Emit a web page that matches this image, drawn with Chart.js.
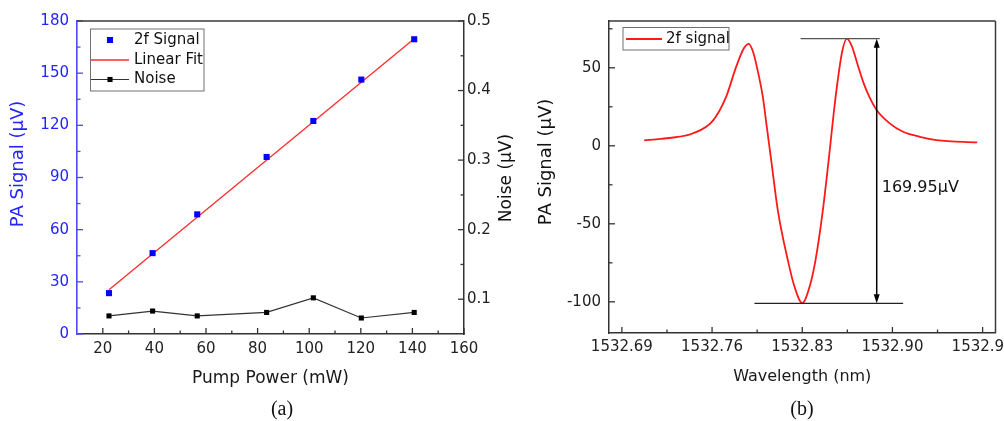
<!DOCTYPE html>
<html>
<head>
<meta charset="utf-8">
<script src="https://cdn.jsdelivr.net/npm/chart.js@4/dist/chart.umd.min.js"></script>
<style>
  html, body { margin: 0; padding: 0; background: #fff; overflow: hidden; width: 1004px; height: 421px; }
  #wrap { position: relative; width: 1004px; height: 421px; overflow: hidden; }
  canvas { position: absolute; top: 0; }
  #chartA { left: 0; }
  #chartB { left: 520px; }
  .panel { position: absolute; font: 20px "Liberation Serif", serif; color: #111; transform: translate(-50%, -50%); }
</style>
</head>
<body>
<div id="wrap">
  <canvas id="chartA" width="520" height="421"></canvas>
  <canvas id="chartB" width="500" height="421"></canvas>
  <div class="panel" style="left:282px; top:408px">(a)</div>
  <div class="panel" style="left:802px; top:408px">(b)</div>
</div>
<script>
// ---- panel (a): PA signal / noise vs pump power
const pumpPower = [22.4, 39.3, 56.6, 83.5, 101.6, 120.2, 140.7];
const paSignal = [23.5, 46.5, 68.8, 101.8, 122.5, 146.3, 169.5];
const noise = [0.076, 0.083, 0.076, 0.081, 0.102, 0.073, 0.081];
const fitPower = [22.4, 140.7];
const fitSignal = [25.5, 169.8];
const pumpTicks = [20, 40, 60, 80, 100, 120, 140, 160];
const signalTicks = [0, 30, 60, 90, 120, 150, 180];
const noiseTicks = [0.1, 0.2, 0.3, 0.4, 0.5];

// ---- panel (b): 2f signal vs wavelength
const wavelength = [1532.7073, 1532.7200, 1532.7268, 1532.7449, 1532.7605, 1532.7709, 1532.7787,
  1532.7847, 1532.7885, 1532.7921, 1532.7952, 1532.7994, 1532.8025, 1532.8059, 1532.8110, 1532.8188,
  1532.8240, 1532.8300, 1532.8357, 1532.8403, 1532.8460, 1532.8505, 1532.8559, 1532.8609, 1532.8647,
  1532.8684, 1532.8730, 1532.8777, 1532.8823, 1532.8877, 1532.8979, 1532.9082, 1532.9213, 1532.9342,
  1532.9658];
const signal2f = [3.5, 4.4, 5.0, 7.9, 16, 31.4, 50.6,
  62.5, 65.4, 59.5, 49, 31.4, 12, -9.2, -41.2, -73.3,
  -90.4, -100.8, -90.4, -73.3, -41.2, -9.2, 31.4, 60, 68.7,
  64, 52, 40, 31, 23, 14.4, 9, 5.8, 3.7,
  2.2];
const waveTicks = [1532.69, 1532.76, 1532.83, 1532.90, 1532.97];
const sig2fTicks = [-100, -50, 0, 50];
const peakLevel = 68.7;
const troughLevel = -101;
const peakLineX = [1532.8287, 1532.8901];
const troughLineX = [1532.7929, 1532.9083];
const arrowX = 1532.8878;
const diffLabel = "169.95μV";
const diffLabelPos = [1532.8917, -27];

const FONT = "'DejaVu Sans', sans-serif";
const BLUE = "#2424ff";

const pts = (xs, ys) => xs.map((x, i) => ({ x: x, y: ys[i] }));
const fixTicks = list => scale => { scale.ticks = list.map(v => ({ value: v })); };
const fixSize = (prop, px) => scale => {
  scale[prop] = px;
  scale.paddingLeft = scale.paddingRight = scale.paddingTop = scale.paddingBottom = 0;
};

//--------------------------------------------------------
// inward major + minor ticks, and the closing frame lines
const innerTicks = {
  id: "innerTicks",
  afterDraw(chart, args, opts) {
    const ctx = chart.ctx, a = chart.chartArea;
    Object.values(chart.scales).forEach(s => {
      const color = opts.colors[s.id];
      if (!color) return;
      const major = s.ticks.map(t => t.value);
      const half = (major[1] - major[0]) / 2;
      const eps = half * 1e-3;
      const minor = [];
      major.forEach(v => [v - half, v + half].forEach(m => {
        if (m > s.min + eps && m < s.max - eps && !minor.some(q => Math.abs(q - m) < eps)) minor.push(m);
      }));
      ctx.save();
      ctx.strokeStyle = color;
      ctx.lineWidth = 1.3;
      const tick = (v, len) => {
        const p = s.getPixelForValue(v);
        ctx.beginPath();
        if (s.isHorizontal()) { ctx.moveTo(p, a.bottom); ctx.lineTo(p, a.bottom - len); }
        else if (s.position === "left") { ctx.moveTo(a.left, p); ctx.lineTo(a.left + len, p); }
        else { ctx.moveTo(a.right, p); ctx.lineTo(a.right - len, p); }
        ctx.stroke();
      };
      major.forEach(v => tick(v, 6));
      minor.forEach(v => tick(v, 3.5));
      ctx.restore();
    });
    ctx.save();
    ctx.strokeStyle = "#3a3a3a";
    ctx.lineWidth = 1.5;
    ctx.beginPath();
    if (opts.frame.includes("top")) { ctx.moveTo(a.left, a.top); ctx.lineTo(a.right, a.top); }
    if (opts.frame.includes("right")) { ctx.moveTo(a.right, a.top); ctx.lineTo(a.right, a.bottom); }
    ctx.stroke();
    ctx.restore();
  }
};

// vertical axis titles, read bottom to top
const sideTitles = {
  id: "sideTitles",
  afterDraw(chart, args, opts) {
    const ctx = chart.ctx;
    opts.items.forEach(t => {
      ctx.save();
      ctx.translate(t.x, t.y);
      ctx.rotate(-Math.PI / 2);
      ctx.font = t.size + "px " + FONT;
      ctx.fillStyle = t.color;
      ctx.textAlign = "center";
      ctx.textBaseline = "middle";
      ctx.fillText(t.text, 0, 0);
      ctx.restore();
    });
  }
};

// framed legend inside the plot
const boxLegend = {
  id: "boxLegend",
  afterDraw(chart, args, o) {
    const ctx = chart.ctx;
    ctx.save();
    ctx.fillStyle = "#fff";
    ctx.fillRect(o.box[0], o.box[1], o.box[2], o.box[3]);
    ctx.strokeStyle = "#707070";
    ctx.lineWidth = 1;
    ctx.strokeRect(o.box[0], o.box[1], o.box[2], o.box[3]);
    ctx.font = o.size + "px " + FONT;
    ctx.textBaseline = "middle";
    chart.data.datasets.forEach((ds, i) => {
      const y = o.rows[i], x0 = o.sample[0], x1 = o.sample[1];
      if (ds.showLine !== false) {
        ctx.strokeStyle = ds.borderColor;
        ctx.lineWidth = ds.borderWidth;
        ctx.beginPath(); ctx.moveTo(x0, y); ctx.lineTo(x1, y); ctx.stroke();
      }
      if (ds.pointRadius) {
        const h = ds.pointRadius * Math.SQRT1_2;
        ctx.fillStyle = ds.pointBackgroundColor;
        ctx.fillRect((x0 + x1) / 2 - h, y - h, 2 * h, 2 * h);
      }
      ctx.fillStyle = "#111";
      ctx.fillText(ds.label, o.textX, y);
    });
    ctx.restore();
  }
};

// peak-to-peak marker of panel (b)
const spanMark = {
  id: "spanMark",
  afterDatasetsDraw(chart) {
    const { ctx, scales: { x, y } } = chart;
    const px = v => x.getPixelForValue(v), py = v => y.getPixelForValue(v);
    const seg = (x0, y0, x1, y1) => { ctx.beginPath(); ctx.moveTo(x0, y0); ctx.lineTo(x1, y1); ctx.stroke(); };
    ctx.save();
    ctx.lineWidth = 1.3;
    ctx.strokeStyle = "#555";
    seg(px(peakLineX[0]), py(peakLevel), px(peakLineX[1]), py(peakLevel));
    ctx.strokeStyle = "#222";
    seg(px(troughLineX[0]), py(troughLevel), px(troughLineX[1]), py(troughLevel));
    const ax = px(arrowX), yTop = py(peakLevel), yBot = py(troughLevel);
    ctx.strokeStyle = "#000";
    ctx.lineWidth = 1.5;
    seg(ax, yTop + 6, ax, yBot - 6);
    ctx.fillStyle = "#000";
    [[yTop, 1], [yBot, -1]].forEach(([yy, d]) => {
      ctx.beginPath();
      ctx.moveTo(ax, yy);
      ctx.lineTo(ax - 3, yy + d * 9);
      ctx.lineTo(ax + 3, yy + d * 9);
      ctx.closePath();
      ctx.fill();
    });
    ctx.font = "16px " + FONT;
    ctx.textAlign = "left";
    ctx.textBaseline = "middle";
    ctx.fillStyle = "#111";
    ctx.fillText(diffLabel, px(diffLabelPos[0]), py(diffLabelPos[1]));
    ctx.restore();
  }
};

const tickFont = { family: FONT, size: 15 };
const noGrid = { display: false, drawTicks: false };

//--------------------------------------------------------
new Chart(document.getElementById("chartA"), {
  type: "line",
  data: {
    datasets: [
      { label: "2f Signal", data: pts(pumpPower, paSignal), yAxisID: "y", showLine: false,
        pointStyle: "rect", pointRadius: 4.3, pointBorderWidth: 0,
        pointBackgroundColor: "#0000ff", borderColor: "#0000ff" },
      { label: "Linear Fit", data: pts(fitPower, fitSignal), yAxisID: "y",
        borderColor: "#ff2a2a", borderWidth: 1.3, pointRadius: 0 },
      { label: "Noise", data: pts(pumpPower, noise), yAxisID: "y1",
        borderColor: "#333", borderWidth: 1.2, pointStyle: "rect", pointRadius: 3.6,
        pointBorderWidth: 0, pointBackgroundColor: "#000" }
    ]
  },
  options: {
    responsive: false, animation: false, events: [],
    layout: { padding: { top: 21, left: 0, right: 0, bottom: 0 } },
    plugins: {
      legend: { display: false }, tooltip: { enabled: false },
      innerTicks: { colors: { x: "#333", y: "#4b4bff", y1: "#333" }, frame: ["top"] },
      sideTitles: { items: [
        { text: "PA Signal (μV)", x: 18, y: 164, size: 18, color: BLUE },
        { text: "Noise (μV)", x: 507, y: 178, size: 17, color: "#111" }
      ] },
      boxLegend: { box: [90.5, 29, 113.5, 62], rows: [40, 60, 79.5], sample: [91, 129], textX: 134, size: 15 }
    },
    scales: {
      x: {
        type: "linear", min: 10, max: 160,
        afterBuildTicks: fixTicks(pumpTicks), afterFit: fixSize("height", 87),
        grid: noGrid, border: { display: true, color: "#333", width: 1.5 },
        ticks: { padding: 6, color: "#222", font: tickFont, autoSkip: false, maxRotation: 0, minRotation: 0 },
        title: { display: true, text: "Pump Power (mW)", color: "#1a1a1a", font: { family: FONT, size: 17 },
          padding: { top: 0, bottom: 32.5 } }
      },
      y: {
        position: "left", min: 0, max: 180,
        afterBuildTicks: fixTicks(signalTicks), afterFit: fixSize("width", 77),
        grid: noGrid, border: { display: true, color: "#4b4bff", width: 1.6 },
        ticks: { padding: 8, color: BLUE, font: tickFont }
      },
      y1: {
        position: "right", min: 0.05, max: 0.5,
        afterBuildTicks: fixTicks(noiseTicks), afterFit: fixSize("width", 56),
        grid: noGrid, border: { display: true, color: "#333", width: 1.5 },
        ticks: { padding: 3, color: "#222", font: tickFont, callback: v => v.toFixed(1) }
      }
    }
  },
  plugins: [innerTicks, sideTitles, boxLegend]
});

//--------------------------------------------------------
new Chart(document.getElementById("chartB"), {
  type: "line",
  data: {
    datasets: [
      { label: "2f signal", data: pts(wavelength, signal2f), borderColor: "#ff1a1a", borderWidth: 1.8,
        pointRadius: 0, cubicInterpolationMode: "monotone" }
    ]
  },
  options: {
    responsive: false, animation: false, events: [],
    layout: { padding: { top: 21, left: 0, right: 24.5, bottom: 0 } },
    plugins: {
      legend: { display: false }, tooltip: { enabled: false },
      innerTicks: { colors: { x: "#333", y: "#333" }, frame: ["top", "right"] },
      sideTitles: { items: [{ text: "PA Signal (μV)", x: 26, y: 162, size: 18, color: "#111" }] },
      boxLegend: { box: [103, 27.5, 106, 22.5], rows: [39], sample: [106, 142], textX: 146, size: 15 }
    },
    scales: {
      x: {
        type: "linear", min: 1532.68, max: 1532.98,
        afterBuildTicks: fixTicks(waveTicks), afterFit: fixSize("height", 88),
        grid: noGrid, border: { display: true, color: "#333", width: 1.5 },
        ticks: { padding: 5, color: "#222", font: tickFont, autoSkip: false, maxRotation: 0, minRotation: 0,
          callback: v => v.toFixed(2) },
        title: { display: true, text: "Wavelength (nm)", color: "#1a1a1a", font: { family: FONT, size: 16 },
          padding: { top: 0, bottom: 34.7 } }
      },
      y: {
        position: "left", min: -120, max: 80,
        afterBuildTicks: fixTicks(sig2fTicks), afterFit: fixSize("width", 89),
        grid: noGrid, border: { display: true, color: "#333", width: 1.5 },
        ticks: { padding: 8, color: "#222", font: tickFont }
      }
    }
  },
  plugins: [innerTicks, sideTitles, boxLegend, spanMark]
});
</script>
</body>
</html>
